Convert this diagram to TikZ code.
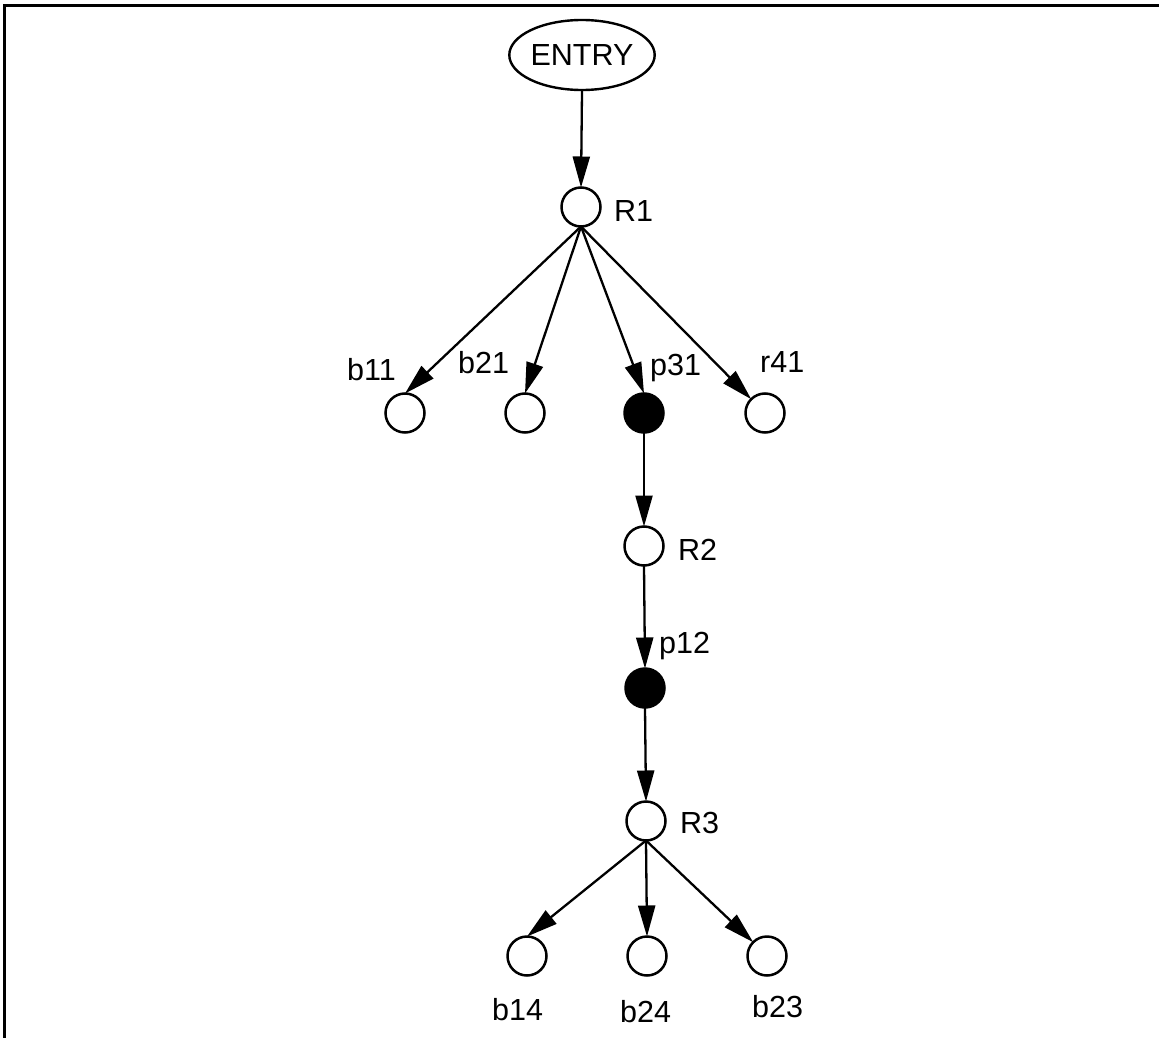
\documentclass[tikz,border=0pt]{standalone}
\usepackage{fontspec}
\setmainfont{Liberation Sans}
\usetikzlibrary{arrows.meta,shapes.geometric}
\begin{document}
\begin{tikzpicture}[x=1pt,y=-1pt,
  vtx/.style={circle,draw,line width=2.5pt,minimum size=39pt,inner sep=0pt,outer sep=0pt},
  fvtx/.style={vtx,fill=black},
  lbl/.style={inner sep=0pt,anchor=base west,font=\fontsize{30.5}{36}\selectfont},
  edge/.style={line width=2.3pt,-{Triangle[length=31pt,width=17pt]}}]
\useasboundingbox (0,0) rectangle (1159,1038);
\draw[line width=3pt] (4,1038) -- (4,6) -- (1159,6);
\node[ellipse,draw,line width=2.4pt,minimum width=144pt,minimum height=70pt,inner sep=0pt,font=\fontsize{30.5}{36}\selectfont] (entry) at (582,55) {ENTRY};
\node[vtx] (R1) at (581,207) {};
\node[vtx] (b11) at (405,413) {};
\node[vtx] (b21) at (525,413) {};
\node[fvtx] (p31) at (644,413) {};
\node[vtx] (r41) at (765,413) {};
\node[vtx] (R2) at (644,546) {};
\node[fvtx] (p12) at (645,688) {};
\node[vtx] (R3) at (646,821) {};
\node[vtx] (b14) at (527,956) {};
\node[vtx] (b24) at (647,956) {};
\node[vtx] (b23) at (767,956) {};
\node[lbl] (lR1) at (614,221) {R1};
\node[lbl] (lb11) at (347,380) {b11};
\node[lbl] (lb21) at (458,373) {b21};
\node[lbl] (lp31) at (650,375) {p31};
\node[lbl] (lr41) at (760,372) {r41};
\node[lbl] (lR2) at (678,560) {R2};
\node[lbl] (lp12) at (659,653) {p12};
\node[lbl] (lR3) at (680,833) {R3};
\node[lbl] (lb14) at (492,1020) {b14};
\node[lbl] (lb24) at (620,1022) {b24};
\node[lbl] (lb23) at (752,1017) {b23};
\draw[edge] (entry.south) -- (R1.north);
\draw[edge] (R1.south) -- (b11.north);
\draw[edge] (R1.south) -- (b21.north);
\draw[edge] (R1.south) -- (p31.north);
\draw[edge] (R1.south) -- (r41.north west);
\draw[edge] (p31.south) -- (R2.north);
\draw[edge] (R2.south) -- (p12.north);
\draw[edge] (p12.south) -- (R3.north);
\draw[edge] (R3.south) -- (b14.north);
\draw[edge] (R3.south) -- (b24.north);
\draw[edge] (R3.south) -- (b23.north west);
\end{tikzpicture}
\end{document}
